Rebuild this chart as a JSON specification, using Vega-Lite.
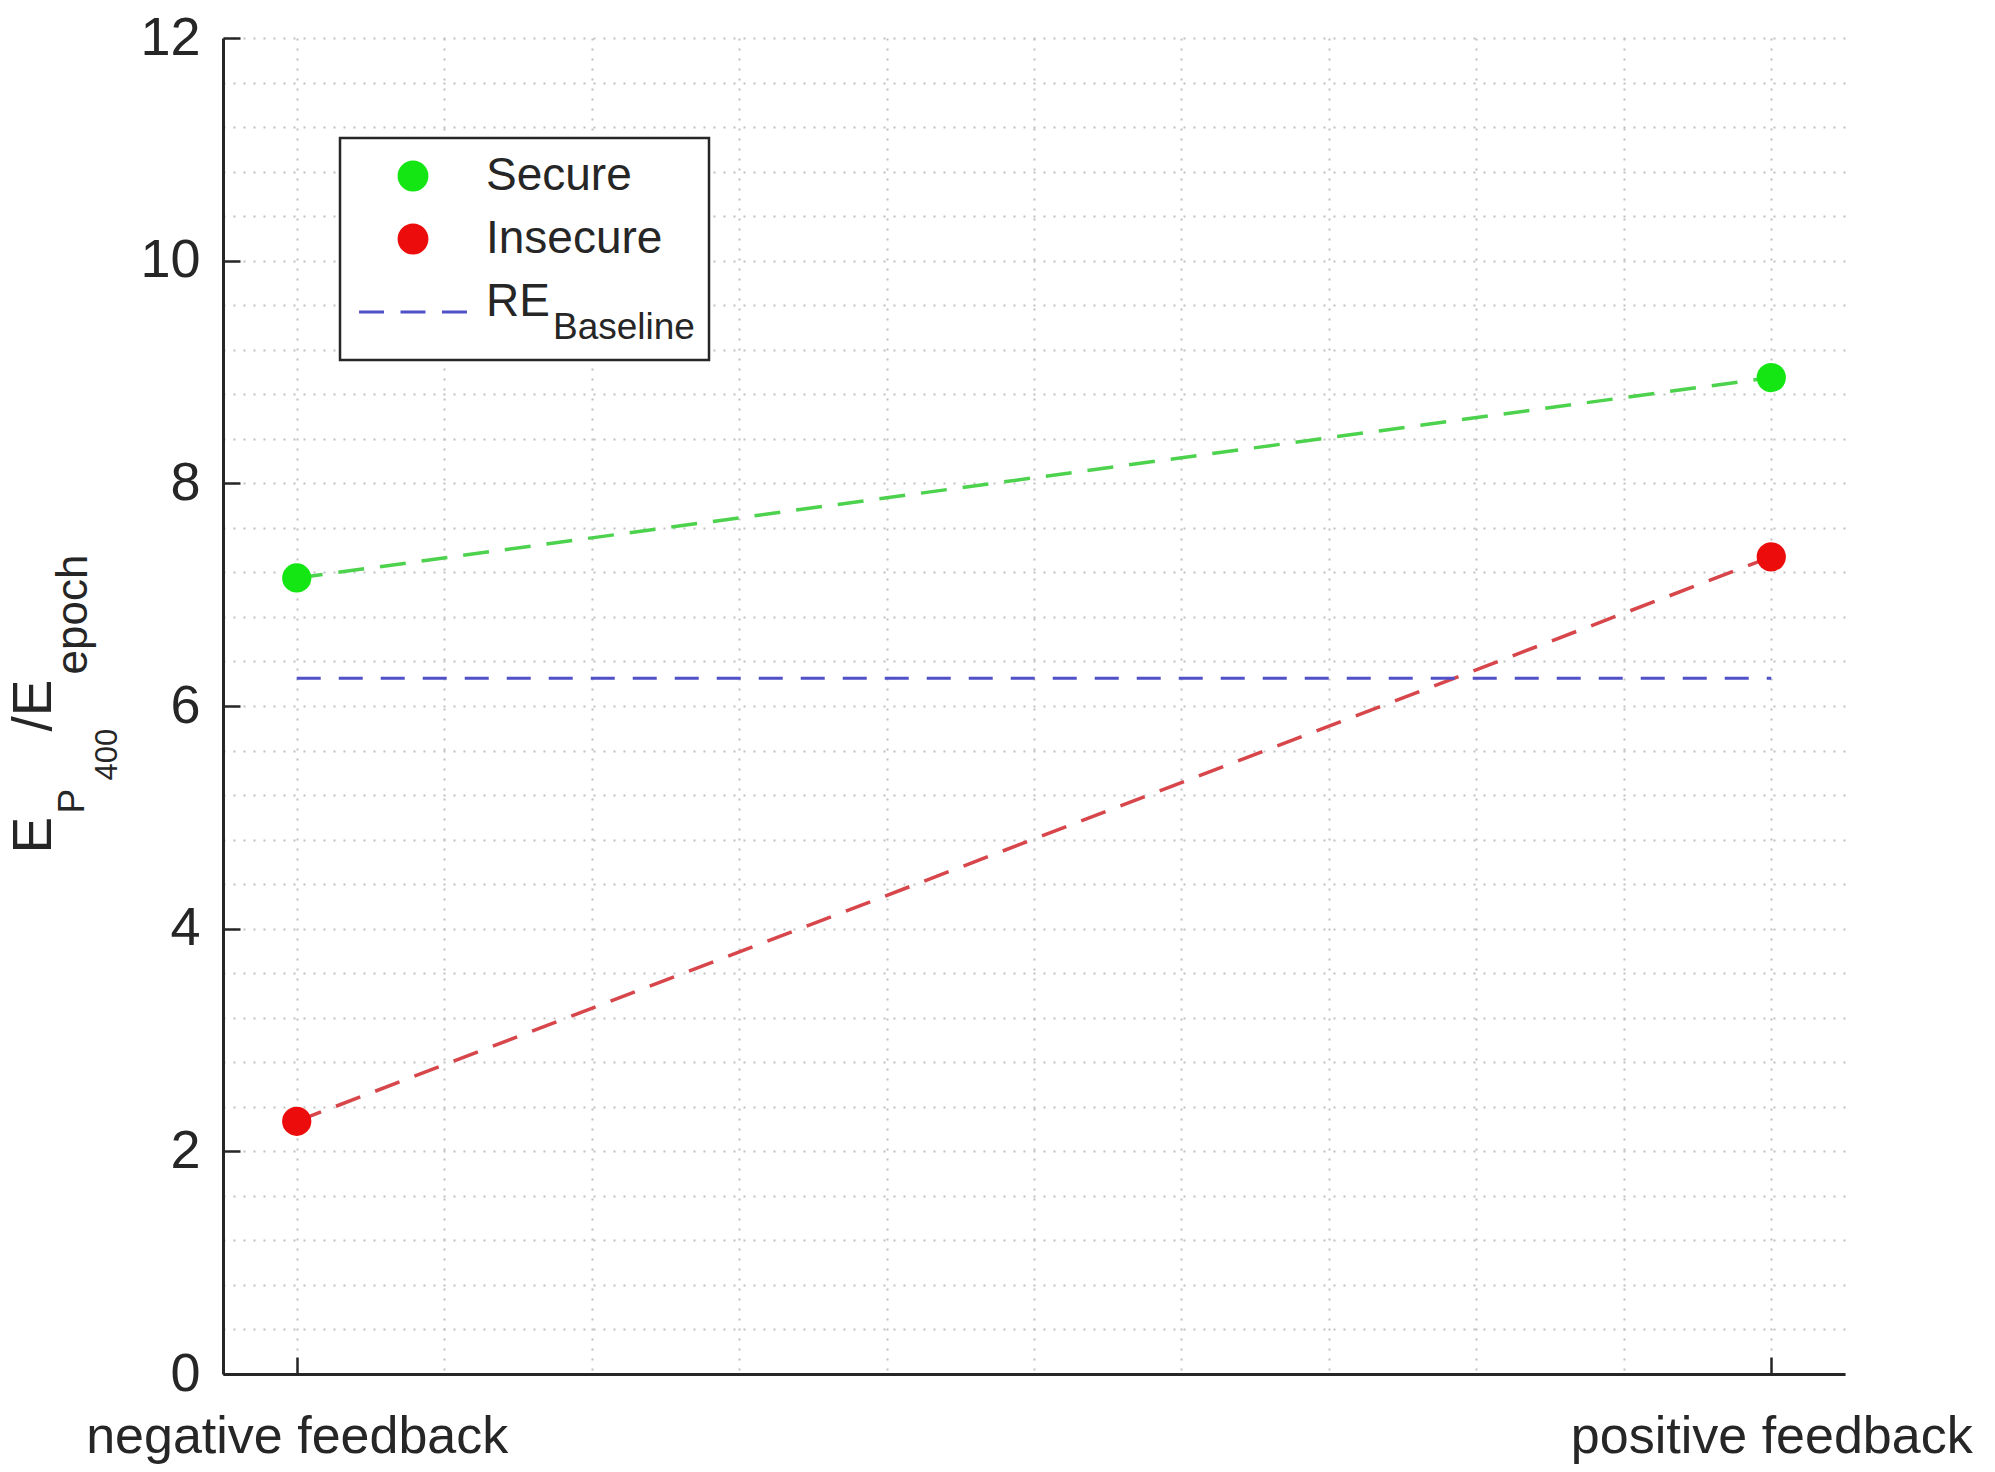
{
  "$schema": "https://vega.github.io/schema/vega-lite/v6.json",
  "width": 1622,
  "height": 1336,
  "autosize": {"type": "none"},
  "padding": {"left": 223, "top": 38, "right": 150, "bottom": 98},
  "background": "white",
  "config": {
    "view": {"stroke": null},
    "font": "Liberation Sans",
    "axis": {"labelFont": "Liberation Sans", "titleFont": "Liberation Sans", "labelColor": "#262626", "titleColor": "#262626", "titleFontWeight": "normal", "domainColor": "#262626", "tickColor": "#262626"},
    "legend": {"strokeWidth": 2.5, "labelFont": "Liberation Sans", "titleFont": "Liberation Sans"}
  },
  "datasets": {
    "pts": [
      {"feedback": 1, "value": 7.15, "series": "Secure"},
      {"feedback": 2, "value": 8.95, "series": "Secure"},
      {"feedback": 1, "value": 2.27, "series": "Insecure"},
      {"feedback": 2, "value": 7.34, "series": "Insecure"}
    ],
    "base": [{"start": 1, "end": 2, "value": 6.25, "sub": "Baseline"}]
  },
  "resolve": {"axis": {"x": "independent", "y": "independent"}},
  "layer": [
    {
      "data": {"name": "pts"},
      "transform": [{"filter": "datum.series == 'Secure'"}],
      "mark": {"type": "line", "color": "#4cd24c", "strokeWidth": 3.5, "strokeDash": [26, 16]},
      "encoding": {
        "x": {"field": "feedback", "type": "quantitative", "scale": {"domain": [0.95, 2.05], "nice": false, "zero": false},
          "axis": {"orient": "bottom", "values": [1, 1.1, 1.2, 1.3, 1.4, 1.5, 1.6, 1.7, 1.8, 1.9, 2], "grid": true, "gridColor": "#c0c0c0", "gridWidth": 2, "gridDash": [2, 8], "domain": false, "ticks": false, "labels": false, "title": null}},
        "y": {"field": "value", "type": "quantitative", "scale": {"domain": [0, 12], "nice": false, "zero": false},
          "axis": {"orient": "left", "values": [0, 0.4, 0.8, 1.2, 1.6, 2, 2.4, 2.8, 3.2, 3.6, 4, 4.4, 4.8, 5.2, 5.6, 6, 6.4, 6.8, 7.2, 7.6, 8, 8.4, 8.8, 9.2, 9.6, 10, 10.4, 10.8, 11.2, 11.6, 12], "grid": true, "gridColor": "#c0c0c0", "gridWidth": 2, "gridDash": [2, 8], "domain": false, "ticks": false, "labels": false,
            "title": "epoch", "titleFontSize": 44, "titleX": -137, "titleY": 636, "titleAngle": -90, "titleAlign": "left", "titleBaseline": "alphabetic"}}
      }
    },
    {
      "data": {"name": "pts"},
      "transform": [{"filter": "datum.series == 'Insecure'"}],
      "mark": {"type": "line", "color": "#d7464b", "strokeWidth": 3.5, "strokeDash": [26, 16]},
      "encoding": {
        "x": {"field": "feedback", "type": "quantitative", "axis": null},
        "y": {"field": "value", "type": "quantitative",
          "axis": {"orient": "left", "grid": false, "domain": false, "ticks": false, "labels": false,
            "title": "/E", "titleFontSize": 55, "titleX": -173, "titleY": 693, "titleAngle": -90, "titleAlign": "left", "titleBaseline": "alphabetic"}}
      }
    },
    {
      "data": {"name": "base"},
      "mark": {"type": "rule", "color": "#5050c8", "strokeWidth": 3},
      "encoding": {
        "x": {"field": "start", "type": "quantitative",
          "axis": {"orient": "bottom", "values": [1, 2], "labelExpr": "datum.value == 1 ? 'negative feedback' : 'positive feedback'", "grid": false, "domain": true, "domainWidth": 3, "ticks": true, "tickSize": -17, "tickWidth": 2.5, "labelFontSize": 52, "labelLimit": 900, "labelPadding": 95, "labelBaseline": "alphabetic", "labelFlush": false, "labelOverlap": false, "title": null}},
        "x2": {"field": "end"},
        "y": {"field": "value", "type": "quantitative",
          "axis": {"orient": "left", "values": [0, 2, 4, 6, 8, 10, 12], "grid": false, "domain": true, "domainWidth": 3, "ticks": true, "tickSize": -17, "tickWidth": 2.5, "labelFontSize": 54, "labelPadding": 40, "labelFlush": false, "labelOverlap": false,
            "title": "E", "titleFontSize": 55, "titleX": -173, "titleY": 815, "titleAngle": -90, "titleAlign": "left", "titleBaseline": "alphabetic"}},
        "strokeDash": {"field": "sub", "type": "nominal", "scale": {"range": [[24, 18]]},
          "legend": {"orient": "none", "legendX": 293, "legendY": 271, "title": null, "padding": 0, "labelOffset": 0, "labelFontSize": 37, "labelColor": "#262626", "symbolOpacity": 0, "zindex": 2}}
      }
    },
    {
      "data": {"name": "pts"},
      "transform": [{"filter": "datum.series == 'Secure'"}],
      "mark": {"type": "point", "filled": true, "size": 855, "opacity": 1},
      "encoding": {
        "x": {"field": "feedback", "type": "quantitative", "axis": null},
        "y": {"field": "value", "type": "quantitative",
          "axis": {"orient": "left", "grid": false, "domain": false, "ticks": false, "labels": false,
            "title": "P", "titleFontSize": 37, "titleX": -140, "titleY": 775, "titleAngle": -90, "titleAlign": "left", "titleBaseline": "alphabetic"}},
        "color": {"field": "series", "type": "nominal", "scale": {"domain": ["Secure", "Insecure", "RE"], "range": ["#14e614", "#ec0c0c", "#5050c8"]},
          "legend": {"orient": "none", "legendX": 117, "legendY": 100, "title": " ", "titleOrient": "bottom", "titleFontSize": 14, "titlePadding": 6, "padding": 15, "rowPadding": 17, "symbolOffset": 35, "labelOffset": 50, "labelFontSize": 46, "labelColor": "#262626", "labelLimit": 500, "symbolSize": 950, "symbolOpacity": 1, "symbolStrokeWidth": 0, "strokeColor": "#262626", "fillColor": "#ffffff", "zindex": 1}},
        "shape": {"field": "series", "type": "nominal", "scale": {"domain": ["Secure", "Insecure", "RE"], "range": ["circle", "circle", "M-3.5,0.555H-1.88V0.745H-3.5ZM-0.81,0.555H0.81V0.745H-0.81ZM1.88,0.555H3.5V0.745H1.88ZM18.2,0.65h0"]},
          "legend": {"orient": "none", "legendX": 117, "legendY": 100, "title": " ", "titleOrient": "bottom", "titleFontSize": 14, "titlePadding": 6, "padding": 15, "rowPadding": 17, "symbolOffset": 35, "labelOffset": 50, "labelFontSize": 46, "labelColor": "#262626", "labelLimit": 500, "symbolSize": 950, "symbolOpacity": 1, "symbolStrokeWidth": 0, "strokeColor": "#262626", "fillColor": "#ffffff", "zindex": 1}}
      }
    },
    {
      "data": {"name": "pts"},
      "transform": [{"filter": "datum.series == 'Insecure'"}],
      "mark": {"type": "point", "filled": true, "size": 855, "opacity": 1},
      "encoding": {
        "x": {"field": "feedback", "type": "quantitative", "axis": null},
        "y": {"field": "value", "type": "quantitative",
          "axis": {"orient": "left", "grid": false, "domain": false, "ticks": false, "labels": false,
            "title": "400", "titleFontSize": 31, "titleX": -107, "titleY": 742, "titleAngle": -90, "titleAlign": "left", "titleBaseline": "alphabetic"}},
        "color": {"field": "series", "type": "nominal", "scale": {"domain": ["Secure", "Insecure", "RE"], "range": ["#14e614", "#ec0c0c", "#5050c8"]},
          "legend": {"orient": "none", "legendX": 117, "legendY": 100, "title": " ", "titleOrient": "bottom", "titleFontSize": 14, "titlePadding": 6, "padding": 15, "rowPadding": 17, "symbolOffset": 35, "labelOffset": 50, "labelFontSize": 46, "labelColor": "#262626", "labelLimit": 500, "symbolSize": 950, "symbolOpacity": 1, "symbolStrokeWidth": 0, "strokeColor": "#262626", "fillColor": "#ffffff", "zindex": 1}},
        "shape": {"field": "series", "type": "nominal", "scale": {"domain": ["Secure", "Insecure", "RE"], "range": ["circle", "circle", "M-3.5,0.555H-1.88V0.745H-3.5ZM-0.81,0.555H0.81V0.745H-0.81ZM1.88,0.555H3.5V0.745H1.88ZM18.2,0.65h0"]},
          "legend": {"orient": "none", "legendX": 117, "legendY": 100, "title": " ", "titleOrient": "bottom", "titleFontSize": 14, "titlePadding": 6, "padding": 15, "rowPadding": 17, "symbolOffset": 35, "labelOffset": 50, "labelFontSize": 46, "labelColor": "#262626", "labelLimit": 500, "symbolSize": 950, "symbolOpacity": 1, "symbolStrokeWidth": 0, "strokeColor": "#262626", "fillColor": "#ffffff", "zindex": 1}}
      }
    }
  ]
}
